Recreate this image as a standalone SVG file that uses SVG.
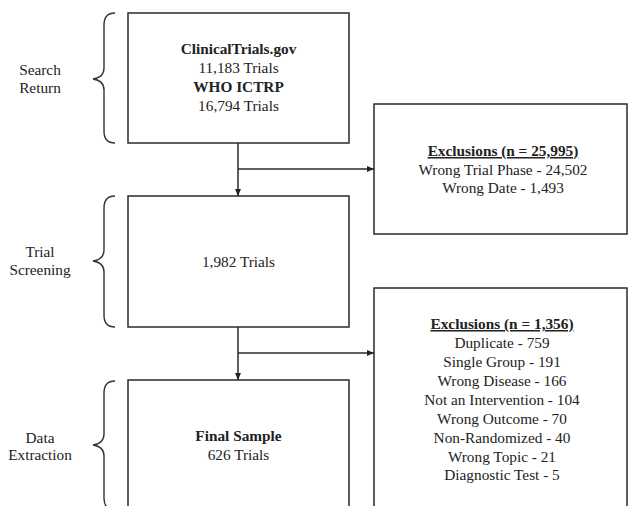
<svg xmlns="http://www.w3.org/2000/svg" width="629" height="506" viewBox="0 0 629 506">
<defs>
<style>
text{font-family:"Liberation Serif","Times New Roman",serif;font-size:15.3px;fill:#222;text-anchor:middle}
.b{font-weight:bold}
.u{font-weight:bold;text-decoration:underline}
.box{fill:#fff;stroke:#2a2a2a;stroke-width:1.5}
.ln{fill:none;stroke:#2a2a2a;stroke-width:1.5}
.br{fill:none;stroke:#333;stroke-width:1.4}
</style>
<marker id="ah" markerWidth="8" markerHeight="6" refX="7" refY="3" orient="auto" markerUnits="userSpaceOnUse">
<path d="M0,0 L7,3 L0,6 Z" fill="#222"/>
</marker>
</defs>
<rect width="629" height="506" fill="#fff"/>
<g id="stage-search">
<path class="br" d="M115,13 C107,13 104,17 104,25 L104,68 C104,75 100,78 93,79 C100,80 104,83 104,90 L104,131 C104,139 107,143 115,143"/>
<text x="40" y="75">Search</text>
<text x="40" y="93">Return</text>
</g>
<g id="stage-screening">
<path class="br" d="M115,196 C107,196 104,200 104,208 L104,250 C104,257 100,260 93,261 C100,262 104,265 104,272 L104,315 C104,323 107,327 115,327"/>
<text x="40" y="257">Trial</text>
<text x="40" y="275">Screening</text>
</g>
<g id="stage-extraction">
<path class="br" d="M115,381 C107,381 104,385 104,393 L104,434 C104,441 100,444 93,445 C100,446 104,449 104,456 L104,498 C104,506 107,510 115,510"/>
<text x="40" y="443">Data</text>
<text x="40" y="460">Extraction</text>
</g>
<g id="connectors">
<line class="ln" x1="238" y1="143" x2="238" y2="196" marker-end="url(#ah)"/>
<line class="ln" x1="238" y1="169" x2="374" y2="169" marker-end="url(#ah)"/>
<line class="ln" x1="238" y1="327" x2="238" y2="380" marker-end="url(#ah)"/>
<line class="ln" x1="238" y1="353" x2="374" y2="353" marker-end="url(#ah)"/>
</g>
<g id="search-return">
<rect class="box" x="128" y="13" width="221" height="130"/>
<text class="b" x="238.5" y="54">ClinicalTrials.gov</text>
<text x="238.5" y="73">11,183 Trials</text>
<text class="b" x="238.5" y="92">WHO ICTRP</text>
<text x="238.5" y="111">16,794 Trials</text>
</g>
<g id="exclusions-1">
<rect class="box" x="374" y="104" width="253" height="130"/>
<text class="u" x="503" y="156">Exclusions (n = 25,995)</text>
<text x="503" y="175">Wrong Trial Phase - 24,502</text>
<text x="503" y="193">Wrong Date - 1,493</text>
</g>
<g id="trial-screening">
<rect class="box" x="128" y="196" width="221" height="131"/>
<text x="238.5" y="267">1,982 Trials</text>
</g>
<g id="exclusions-2">
<rect class="box" x="374" y="288" width="253" height="240"/>
<text class="u" x="502" y="329">Exclusions (n = 1,356)</text>
<text x="502" y="348">Duplicate - 759</text>
<text x="502" y="367">Single Group - 191</text>
<text x="502" y="386">Wrong Disease - 166</text>
<text x="502" y="405">Not an Intervention - 104</text>
<text x="502" y="424">Wrong Outcome - 70</text>
<text x="502" y="443">Non-Randomized - 40</text>
<text x="502" y="462">Wrong Topic - 21</text>
<text x="502" y="480">Diagnostic Test - 5</text>
</g>
<g id="final-sample">
<rect class="box" x="128" y="380" width="221" height="150"/>
<text class="b" x="238.5" y="441">Final Sample</text>
<text x="238.5" y="460">626 Trials</text>
</g>
</svg>
